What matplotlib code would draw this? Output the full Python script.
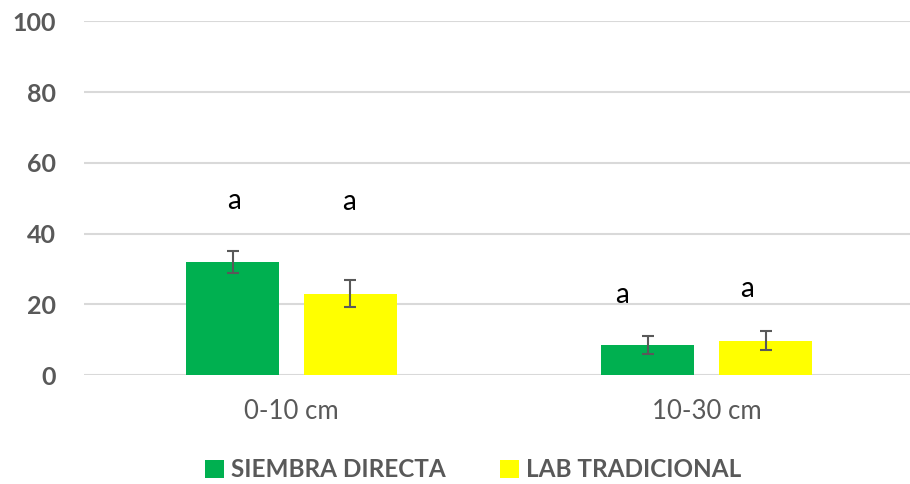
import matplotlib
matplotlib.use("Agg")
import matplotlib.pyplot as plt
from matplotlib.patches import Patch
import numpy as np

plt.rcParams['font.family'] = ['Lato', 'DejaVu Sans']

categories = ["0-10 cm", "10-30 cm"]
series_names = ["SIEMBRA DIRECTA", "LAB TRADICIONAL"]
siembra_directa = [32.0, 8.4]
lab_tradicional = [23.0, 9.7]
siembra_err = [3.2, 2.5]
lab_err = [3.8, 2.7]
siembra_letters = ["a", "a"]
lab_letters = ["a", "a"]

colors = ["#00B050", "#FFFF00"]
text_gray = "#595959"

fig = plt.figure(figsize=(9.10, 4.84), dpi=100)
ax = fig.add_axes([0.0923, 0.2252, 0.9077, 0.7304])

x = np.arange(len(categories))
width = 0.225
offset = 0.142

ax.bar(x - offset, siembra_directa, width, color=colors[0], zorder=3)
ax.bar(x + offset, lab_tradicional, width, color=colors[1], zorder=3)
ax.errorbar(x - offset, siembra_directa, yerr=siembra_err, fmt="none",
            ecolor=text_gray, elinewidth=1.5, capsize=4.5, capthick=1.5, zorder=4)
ax.errorbar(x + offset, lab_tradicional, yerr=lab_err, fmt="none",
            ecolor=text_gray, elinewidth=1.5, capsize=4.5, capthick=1.5, zorder=4)

# significance letters placed above each bar
letter_pos = [(-0.138, 49.3), (0.138, 49.0), (0.797, 22.6), (1.098, 24.4)]
letters = [siembra_letters[0], lab_letters[0], siembra_letters[1], lab_letters[1]]
for (lx, ly), letter in zip(letter_pos, letters):
    ax.text(lx, ly, letter, ha="center", va="center", fontsize=20, color="black")

ax.set_xlim(-0.5, 1.49)
ax.set_ylim(0, 100)
ax.set_yticks(np.arange(0, 101, 20))
ax.yaxis.grid(True, color="#D9D9D9", linewidth=1.5, zorder=0)
ax.set_axisbelow(True)
ax.set_xticks(x)
ax.set_xticklabels(categories, fontsize=18.5, color=text_gray)
for lab in ax.get_yticklabels():
    lab.set_fontsize(18)
    lab.set_fontweight("bold")
    lab.set_color(text_gray)
ax.tick_params(axis="both", length=0)
ax.tick_params(axis="y", pad=20)
ax.tick_params(axis="x", pad=17)
for s in ax.spines.values():
    s.set_visible(False)

handles = [Patch(facecolor=c, edgecolor="none") for c in colors]
leg = fig.legend(handles, series_names, loc="center", bbox_to_anchor=(0.52, 0.029),
                 ncol=2, frameon=False, handlelength=0.8, handleheight=0.8,
                 handletextpad=0.3, columnspacing=2.2,
                 prop={"size": 17.5, "weight": "bold"})
for t in leg.get_texts():
    t.set_color(text_gray)

fig.savefig("out.png", dpi=100)
